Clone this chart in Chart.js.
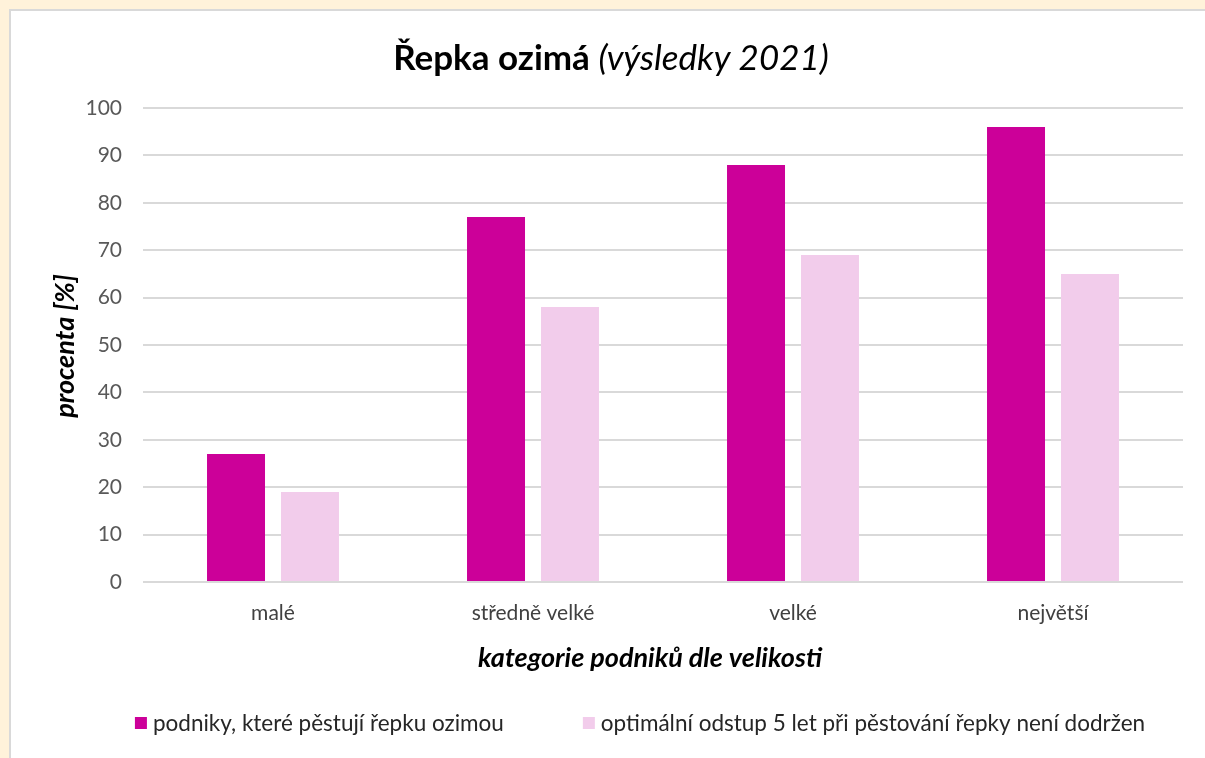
<!DOCTYPE html>
<html>
<head>
<meta charset="utf-8">
<title>Řepka ozimá (výsledky 2021)</title>
<style>
  html, body { margin: 0; padding: 0; background: #ffffff; overflow: hidden; width: 1205px; height: 758px; }
  /* krémový okraj stránky nahoře a vlevo */
  .okraj { position: absolute; background: #fff2da; }
  #nahore { left: 0; top: 0; width: 1400px; height: 9px; }
  #vlevo { left: 0; top: 0; width: 9px; height: 1000px; }
  #ramecek {
    position: absolute; left: 9px; top: 9px; width: 1400px; height: 1000px;
    border-left: 2px solid #d9d9d9; border-top: 2px solid #d9d9d9;
  }
  #wrap { position: absolute; left: 0; top: 0; width: 1205px; height: 758px; }
</style>
</head>
<body>
<div class="okraj" id="nahore"></div>
<div class="okraj" id="vlevo"></div>
<div id="ramecek"></div>
<div id="wrap"><canvas id="repka"></canvas></div>

<script src="https://cdn.jsdelivr.net/npm/chart.js"></script>
<script>
  // kategorie podniků a hodnoty v procentech
  const kategorie = ['malé', 'středně velké', 'velké', 'největší'];
  const pestujiRepku = [27, 77, 88, 96];
  const odstupNedodrzen = [19, 58, 69, 65];
  const nazevSerie1 = 'podniky, které pěstují řepku ozimou';
  const nazevSerie2 = 'optimální odstup 5 let při pěstování řepky není dodržen';
  const yTicks = [0, 10, 20, 30, 40, 50, 60, 70, 80, 90, 100];

  const PISMO = 'Lato, "Open Sans", sans-serif';

  // nadpis, popisky os a legenda kreslené přímo do canvasu
  const popisky = {
    id: 'popisky',
    afterDraw(chart) {
      const c = chart.ctx;
      c.save();
      // nadpis: tučná a kurzíva v jednom řádku
      const t1 = 'Řepka ozimá ';
      const t2 = '(výsledky 2021)';
      c.textBaseline = 'middle';
      c.fillStyle = '#000000';
      c.font = 'bold 35px ' + PISMO;
      const w1 = c.measureText(t1).width;
      c.font = 'italic 35px ' + PISMO;
      const w2 = c.measureText(t2).width;
      let x = 611 - (w1 + w2) / 2;
      c.textAlign = 'left';
      c.font = 'bold 35px ' + PISMO;
      c.fillText(t1, x, 59);
      c.font = 'italic 35px ' + PISMO;
      c.fillText(t2, x + w1, 59);

      // popisek osy x
      c.textAlign = 'center';
      c.font = 'italic bold 27px ' + PISMO;
      c.fillText('kategorie podniků dle velikosti', 650, 658);

      // popisek osy y
      c.save();
      c.translate(65, 346);
      c.rotate(-Math.PI / 2);
      c.fillText('procenta [%]', 0, 0);
      c.restore();

      // legenda
      c.font = '22.5px ' + PISMO;
      c.textAlign = 'left';
      const polozky = chart.data.datasets.map(d => ({
        text: d.label, barva: d.backgroundColor, w: c.measureText(d.label).width
      }));
      const box = 12, mezera = 6, rozestup = 79;
      const celkem = polozky.reduce((s, p) => s + box + mezera + p.w, 0) + rozestup * (polozky.length - 1);
      x = 640 - celkem / 2;
      polozky.forEach(p => {
        c.fillStyle = p.barva;
        c.fillRect(x, 717, box, box);
        c.fillStyle = '#262626';
        c.fillText(p.text, x + box + mezera, 724);
        x += box + mezera + p.w + rozestup;
      });
      c.restore();
    }
  };

  const ctx = document.getElementById('repka').getContext('2d');
  new Chart(ctx, {
    type: 'bar',
    data: {
      labels: kategorie,
      datasets: [
        {
          label: nazevSerie1,
          data: pestujiRepku,
          backgroundColor: '#cc0099',
          categoryPercentage: 0.569,
          barPercentage: 0.784
        },
        {
          label: nazevSerie2,
          data: odstupNedodrzen,
          backgroundColor: '#f2cceb',
          categoryPercentage: 0.569,
          barPercentage: 0.784
        }
      ]
    },
    options: {
      responsive: true,
      maintainAspectRatio: false,
      animation: false,
      layout: { padding: { left: 0, top: 108, right: 22, bottom: 0 } },
      plugins: {
        legend: { display: false },
        title: { display: false },
        tooltip: { enabled: false }
      },
      scales: {
        x: {
          grid: { display: false, drawTicks: false },
          border: { display: false },
          ticks: { color: '#404040', padding: 19, font: { family: PISMO, size: 21 } },
          afterFit(scale) { scale.height = 758 - 582; }
        },
        y: {
          min: 0,
          max: 100,
          afterBuildTicks(scale) { scale.ticks = yTicks.map(v => ({ value: v })); },
          grid: { color: '#d9d9d9', lineWidth: 2, drawTicks: false },
          border: { display: false },
          ticks: { color: '#595959', padding: 21, font: { family: PISMO, size: 21 } },
          afterFit(scale) { scale.width = 143; }
        }
      }
    },
    plugins: [popisky]
  });
</script>
</body>
</html>
